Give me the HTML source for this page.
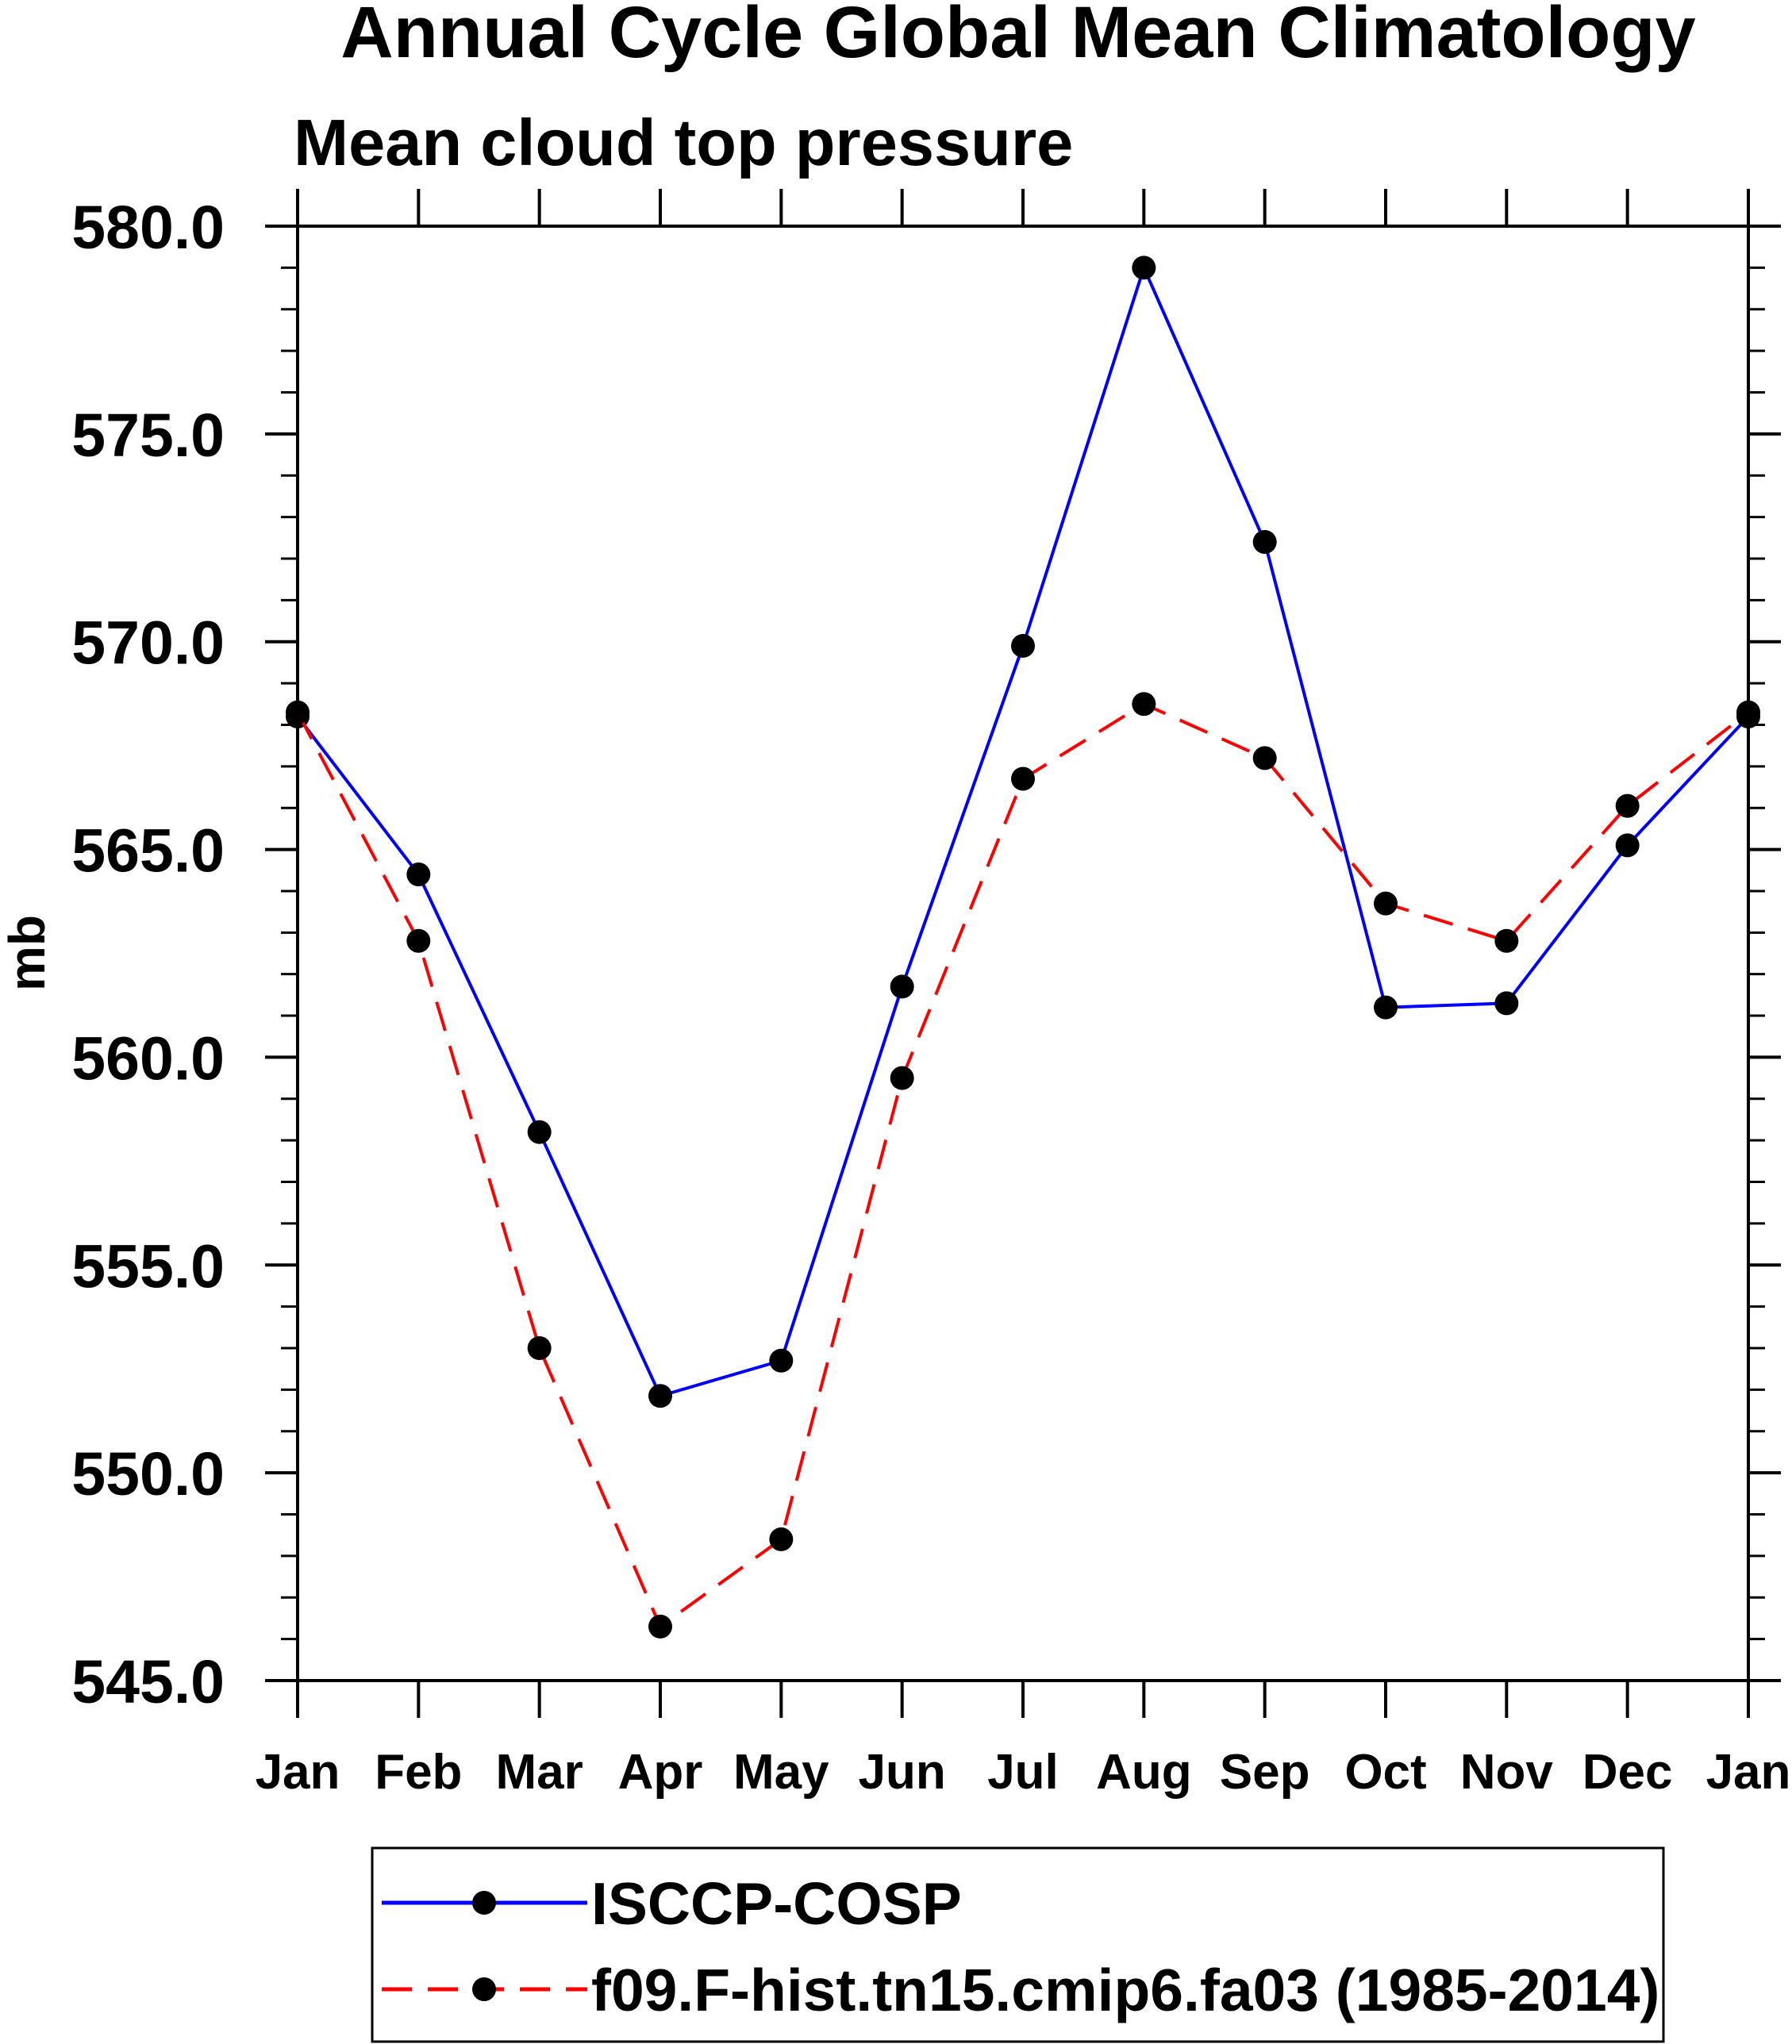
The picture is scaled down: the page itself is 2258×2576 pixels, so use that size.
<!DOCTYPE html>
<html><head><meta charset="utf-8"><style>
html,body{margin:0;padding:0;background:#fff}
svg{display:block;font-family:"Liberation Sans",Arial,sans-serif;font-weight:bold}
</style></head><body>
<svg id="chart" width="2258" height="2576" viewBox="0 0 2258 2576" xmlns="http://www.w3.org/2000/svg">
<text x="1283" y="72" font-size="92" text-anchor="middle">Annual Cycle Global Mean Climatology</text>
<text x="370" y="208" font-size="83">Mean cloud top pressure</text>
<text transform="translate(56,1201) rotate(-90)" font-size="64" text-anchor="middle">mb</text>
<g id="axes"></g>
<g id="series"></g>
<g id="legend">
<rect x="469" y="2329" width="1627" height="244" fill="none" stroke="#000" stroke-width="3"/>
<line x1="481" y1="2398" x2="740" y2="2398" stroke="#0000ff" stroke-width="5"/>
<circle cx="610" cy="2398" r="15" fill="#000"/>
<text x="745" y="2425" font-size="75">ISCCP-COSP</text>
<line x1="481" y1="2507" x2="740" y2="2507" stroke="#ff0000" stroke-width="5" stroke-dasharray="38,20"/>
<circle cx="610" cy="2507" r="15" fill="#000"/>
<text x="745" y="2534" font-size="75">f09.F-hist.tn15.cmip6.fa03 (1985-2014)</text>
</g>
</svg>
<script>
const months = ["Jan","Feb","Mar","Apr","May","Jun","Jul","Aug","Sep","Oct","Nov","Dec","Jan"];
const isccp = [568.2,564.4,558.2,551.85,552.7,561.7,569.9,579.0,572.4,561.2,561.3,565.1,568.2];
const model = [568.3,562.8,553.0,546.3,548.4,559.5,566.7,568.5,567.2,563.7,562.8,566.05,568.3];
const yTicks = [545,550,555,560,565,570,575,580];
const yMin = 545, yMax = 580;

const L=375,R=2203,T=285,B=2118;
const NS="http://www.w3.org/2000/svg";
function xs(i){return L+(R-L)*i/(months.length-1);}
function ys(v){return B-(v-yMin)/(yMax-yMin)*(B-T);}
function mk(tag,attrs,parent){const e=document.createElementNS(NS,tag);for(const k in attrs)e.setAttribute(k,attrs[k]);parent.appendChild(e);return e;}
const axes=document.getElementById('axes');
const frame=mk('rect',{x:L,y:T,width:R-L,height:B-T,fill:'none',stroke:'#000','stroke-width':4},axes);


for(let v=yMin;v<=yMax;v++){
  const major=(v-yMin)%5===0; const len=major?41:21; const y=ys(v);
  const t1=mk('line',{x1:L-len,y1:y,x2:L,y2:y,stroke:'#000','stroke-width':major?4:3},axes);
  
  
  const t2=mk('line',{x1:R,y1:y,x2:R+len,y2:y,stroke:'#000','stroke-width':major?4:3},axes);
  
  
}
yTicks.forEach(v=>{
  const t=mk('text',{x:283,y:ys(v)+28,'font-size':77,'text-anchor':'end'},axes);
  t.textContent=v.toFixed(1);
  
  
});
months.forEach((m,i)=>{
  const x=xs(i);
  const a=mk('line',{x1:x,y1:B,x2:x,y2:B+47,stroke:'#000','stroke-width':4},axes);
  
  
  const b=mk('line',{x1:x,y1:T-47,x2:x,y2:T,stroke:'#000','stroke-width':4},axes);
  
  
  const t=mk('text',{x:x,y:2254,'font-size':62,'text-anchor':'middle'},axes);
  t.textContent=m;
  
  
});
const sg=document.getElementById('series');
function drawSeries(vals,color,dash,name){
  const pts=vals.map((v,i)=>xs(i)+','+ys(v)).join(' ');
  const attrs={points:pts,fill:'none',stroke:color,'stroke-width':4,'stroke-linejoin':'round'};
  if(dash)attrs['stroke-dasharray']=dash;
  const pl=mk('polyline',attrs,sg);
  
  
  vals.forEach((v,i)=>{
    const c=mk('circle',{cx:xs(i),cy:ys(v),r:15,fill:'#000'},sg);
    
    
  });
}
drawSeries(isccp,'#0000ff',null,'isccp');
drawSeries(model,'#ff0000','38,20','model');
</script>
</body></html>
